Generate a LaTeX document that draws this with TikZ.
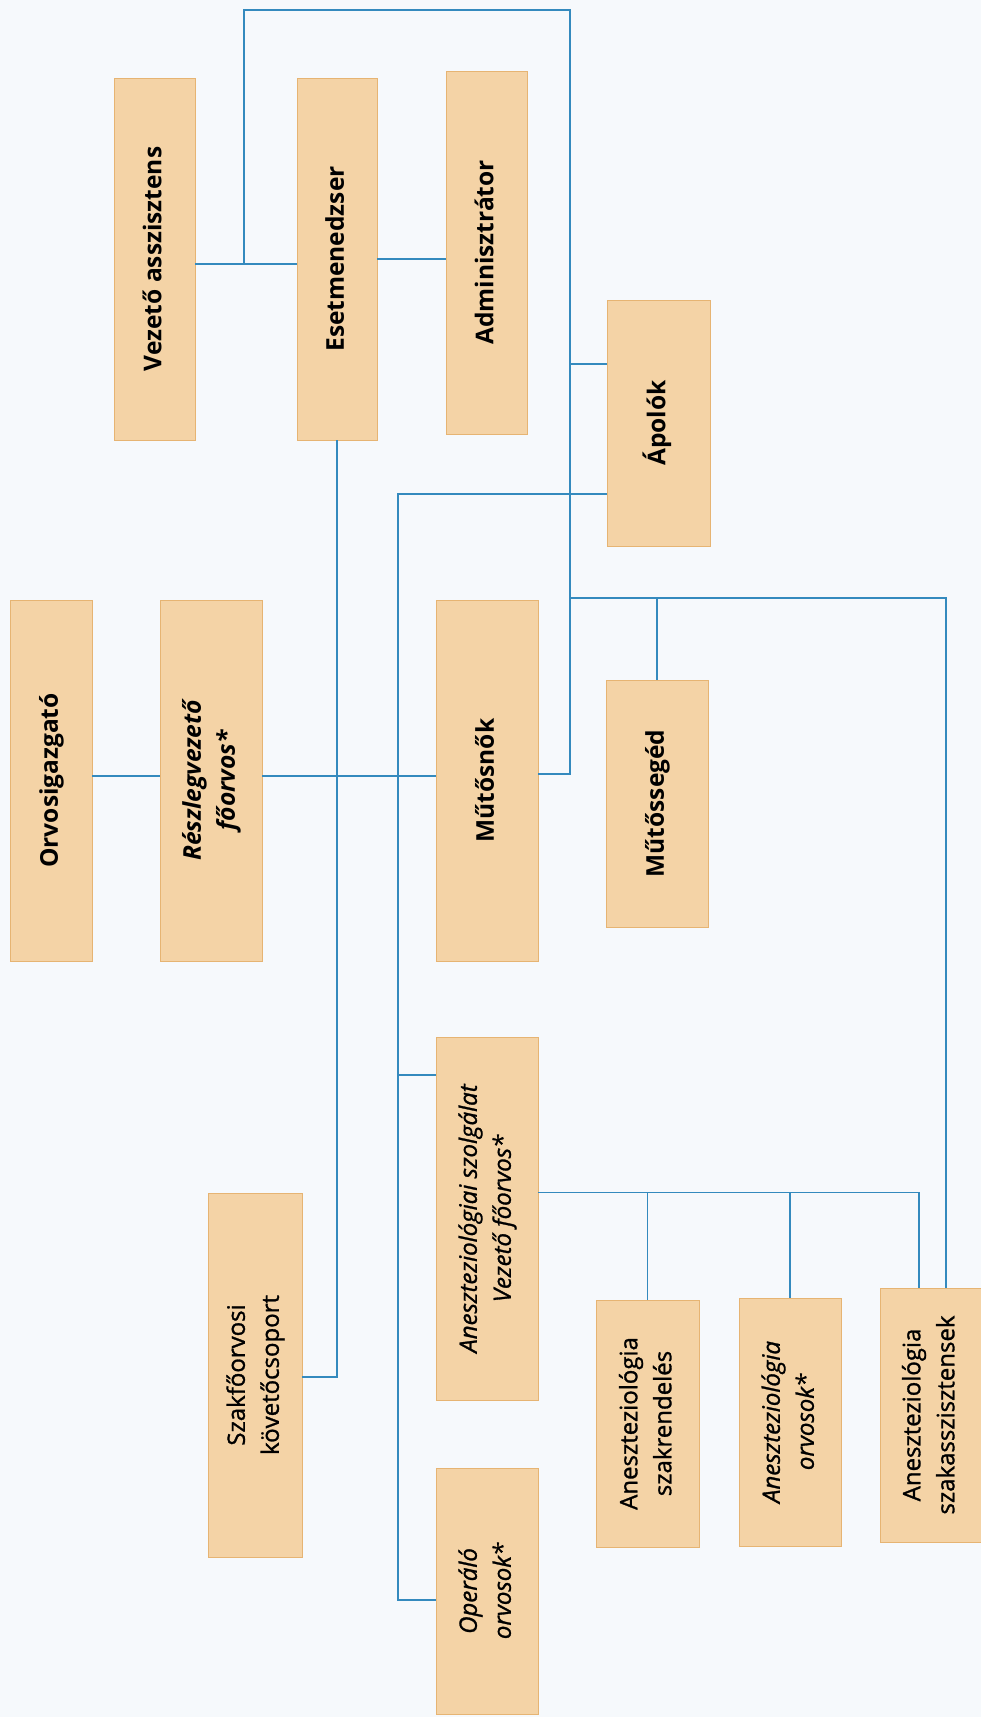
\documentclass[tikz,border=0pt]{standalone}
\usepackage{fontspec}
\setmainfont{Open Sans}
\newfontfamily\semifont[FakeBold=1.2]{Open Sans}
\usetikzlibrary{calc}
\definecolor{bgcol}{RGB}{246,249,252}
\definecolor{boxfill}{RGB}{244,211,166}
\definecolor{boxline}{RGB}{230,180,115}
\definecolor{linkcol}{RGB}{52,138,190}
\newcommand{\vt}[1]{\rotatebox{90}{\begin{tabular}{@{}c@{}}#1\end{tabular}}}
\begin{document}
\begin{tikzpicture}[x=1pt,y=1pt,
  box/.style={draw=boxline, fill=boxfill, line width=0.8pt, inner sep=0pt},
  fb/.style={font=\fontsize{24.5}{34}\selectfont\bfseries},
  fbi/.style={font=\fontsize{24.5}{34}\selectfont\bfseries\itshape},
  fr/.style={font=\fontsize{24}{34}\selectfont\semifont},
  fri/.style={font=\fontsize{24}{34}\selectfont\semifont\itshape},
  link/.style={draw=linkcol, line width=1.8pt}]
\fill[bgcol] (0,0) rectangle (981,1717);
\useasboundingbox (0,0) rectangle (981,1717);

% boxes
\node[box, fb, minimum width=81, minimum height=362] (va) at (154.5,1458) {\vt{Vezető asszisztens}};
\node[box, fb, minimum width=80, minimum height=362] (eset) at (337,1458) {\vt{Esetmenedzser}};
\node[box, fb, minimum width=81, minimum height=363] (admin) at (486.5,1464.5) {\vt{Adminisztrátor}};
\node[box, fb, minimum width=103, minimum height=246] (apolok) at (658.5,1294) {\vt{Ápolók}};
\node[box, fb, minimum width=82, minimum height=361] (orvig) at (51,936.5) {\vt{Orvosigazgató}};
\node[box, fbi, minimum width=102, minimum height=361] (reszleg) at (211,936.5) {\vt{Részlegvezető\\főorvos*}};
\node[box, fb, minimum width=102, minimum height=361] (mutosnok) at (487,936.5) {\vt{Műtősnők}};
\node[box, fb, minimum width=102, minimum height=247] (mutosseg) at (657,913.5) {\vt{Műtőssegéd}};
\node[box, fr, minimum width=94, minimum height=364] (szakfo) at (255,342) {\vt{Szakfőorvosi\\követőcsoport}};
\node[box, fri, minimum width=102, minimum height=363] (aneszt) at (487,498.5) {\vt{Aneszteziológiai szolgálat\\Vezető főorvos*}};
\node[box, fri, minimum width=102, minimum height=246] (operalo) at (487,126) {\vt{Operáló\\orvosok*}};
\node[box, fr, minimum width=103, minimum height=247] (szakrend) at (647.5,293.5) {\vt{Aneszteziológia\\szakrendelés}};
\node[box, fri, minimum width=102, minimum height=248] (anorv) at (790,295) {\vt{Aneszteziológia\\orvosok*}};
\node[box, fr, minimum width=101, minimum height=254] (szakassz) at (930.5,302) {\vt{Aneszteziológia\\szakasszisztensek}};

% junction coordinates
\coordinate (j1) at (244,1453);
\coordinate (tr) at (570,1707);
\coordinate (m1) at (570,943);
\coordinate (a1) at (570,1353);
\coordinate (b1) at (570,1119);
\coordinate (r1) at (945.6,1119);
\coordinate (p1) at (398,1223);
\coordinate (p2) at (398,642);
\coordinate (p3) at (398,117);
\coordinate (h1) at (0,941);
\coordinate (s1) at (337,340);
\coordinate (t1) at (919,524.5);

% connectors
\draw[link] (va.east |- j1) -- (eset.west |- j1);
\draw[link] (eset.east) -- (admin.west |- eset.east);
\draw[link] (j1) |- (tr) -- (m1) -- (mutosnok.east |- m1);
\draw[link] (a1) -- (apolok.west |- a1);
\draw[link] (b1) -- (r1) -- (r1 |- szakassz.north);
\draw[link] (mutosseg.north |- b1) -- (mutosseg.north);
\draw[link] (eset.south) -- (s1) -- (szakfo.east |- s1);
\draw[link] (apolok.west |- p1) -- (p1) -- (p3) -- (operalo.west |- p3);
\draw[link] (p2) -- (aneszt.west |- p2);
\draw[link] (orvig.east |- h1) -- (reszleg.west |- h1);
\draw[link] (reszleg.east |- h1) -- (mutosnok.west |- h1);
\draw[link] (aneszt.east |- t1) -- (t1) -- (t1 |- szakassz.north);
\draw[link] (szakrend.north |- t1) -- (szakrend.north);
\draw[link] (anorv.north |- t1) -- (anorv.north);
\end{tikzpicture}
\end{document}
